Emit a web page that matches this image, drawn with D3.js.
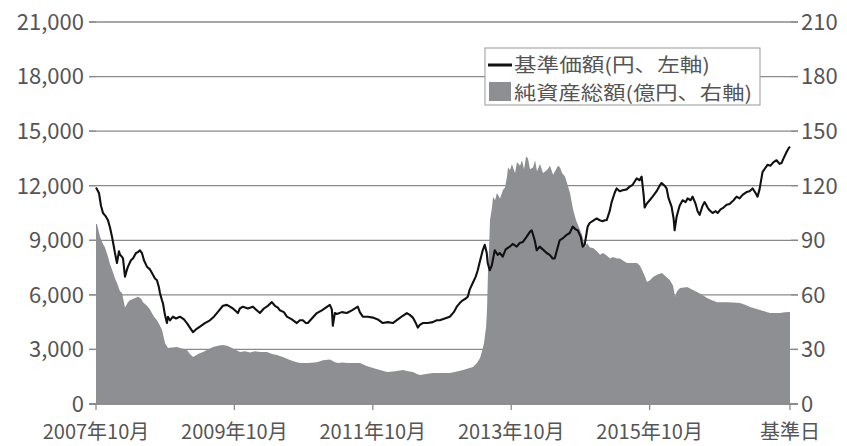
<!DOCTYPE html>
<html><head><meta charset="utf-8">
<script src="https://cdn.jsdelivr.net/npm/d3@7"></script>
<style>
html,body{margin:0;padding:0;background:#fff;}
svg{display:block;font-family:"Noto Sans CJK JP","Noto Sans",sans-serif;}
</style></head>
<body><svg id="c" width="847" height="446"></svg>
<script>
// time as fractional year
const navT = [2007.750,2007.793,2007.822,2007.851,2007.894,2007.923,2007.952,2007.981,2008.010,2008.024,2008.053,2008.082,2008.097,2008.125,2008.140,2008.169,2008.198,2008.212,2008.255,2008.284,2008.328,2008.356,2008.385,2008.414,2008.443,2008.486,2008.530,2008.559,2008.602,2008.631,2008.660,2008.674,2008.703,2008.717,2008.746,2008.775,2008.790,2008.819,2008.862,2008.905,2008.963,2009.021,2009.064,2009.107,2009.151,2009.194,2009.252,2009.324,2009.396,2009.454,2009.497,2009.541,2009.584,2009.642,2009.685,2009.728,2009.757,2009.800,2009.829,2009.873,2009.945,2010.017,2010.060,2010.118,2010.176,2010.234,2010.291,2010.335,2010.378,2010.407,2010.465,2010.508,2010.580,2010.652,2010.696,2010.739,2010.782,2010.811,2010.869,2010.941,2011.013,2011.071,2011.129,2011.158,2011.172,2011.201,2011.230,2011.302,2011.374,2011.447,2011.533,2011.562,2011.605,2011.678,2011.750,2011.822,2011.894,2011.966,2012.039,2012.111,2012.183,2012.241,2012.284,2012.328,2012.371,2012.400,2012.429,2012.472,2012.544,2012.616,2012.674,2012.717,2012.790,2012.862,2012.920,2012.963,2013.006,2013.049,2013.093,2013.122,2013.151,2013.194,2013.237,2013.266,2013.295,2013.338,2013.367,2013.396,2013.410,2013.439,2013.468,2013.512,2013.555,2013.584,2013.627,2013.670,2013.728,2013.771,2013.829,2013.873,2013.916,2013.974,2014.017,2014.046,2014.089,2014.118,2014.161,2014.205,2014.262,2014.306,2014.349,2014.378,2014.421,2014.450,2014.493,2014.551,2014.595,2014.638,2014.681,2014.710,2014.753,2014.782,2014.811,2014.854,2014.883,2014.941,2014.984,2015.028,2015.071,2015.100,2015.129,2015.172,2015.201,2015.244,2015.273,2015.317,2015.360,2015.418,2015.461,2015.504,2015.562,2015.605,2015.634,2015.663,2015.678,2015.706,2015.750,2015.793,2015.851,2015.894,2015.923,2015.966,2015.995,2016.024,2016.067,2016.096,2016.111,2016.140,2016.154,2016.183,2016.226,2016.270,2016.298,2016.342,2016.371,2016.414,2016.443,2016.472,2016.515,2016.544,2016.587,2016.616,2016.659,2016.703,2016.732,2016.775,2016.818,2016.862,2016.905,2016.963,2017.006,2017.049,2017.093,2017.150,2017.194,2017.237,2017.280,2017.309,2017.338,2017.381,2017.425,2017.454,2017.497,2017.540,2017.584,2017.627,2017.656,2017.685,2017.728,2017.757,2017.778];
const navV = [11900,11600,10900,10500,10300,10100,9700,9200,8600,8300,7750,8400,8200,8100,8000,7000,7400,7550,7900,8000,8300,8350,8450,8300,7900,7550,7400,7200,6900,6800,6400,6100,5700,5550,4900,4450,4800,4600,4800,4700,4800,4650,4450,4200,3950,4100,4250,4450,4600,4800,5000,5200,5400,5450,5350,5250,5150,5000,5250,5350,5250,5350,5200,5000,5250,5400,5600,5400,5300,5150,5050,4800,4650,4450,4600,4600,4450,4450,4700,5000,5150,5300,5450,5200,4300,5000,4950,5050,5000,5150,5350,5050,4800,4800,4750,4650,4450,4500,4450,4650,4850,5000,4900,4750,4450,4200,4350,4450,4450,4500,4600,4600,4700,4800,5050,5350,5550,5700,5800,5900,6300,6650,7000,7350,7800,8450,8750,8300,7750,7350,7600,8450,8200,8300,8100,8500,8650,8800,8650,8850,8900,9200,9450,9550,9000,8450,8650,8500,8300,8200,8000,8000,8600,9000,9100,9300,9400,9750,9600,9550,9200,8650,8750,9750,9950,10100,10200,10100,10050,10100,10100,10600,11100,11600,11850,11700,11750,11800,11950,12050,12400,12300,12500,11500,10800,11000,11200,11400,11700,12000,12150,12000,11850,11300,10850,10200,9550,10300,10500,10900,11200,11100,11300,11200,11400,11000,10600,10400,10900,11100,10800,10650,10500,10600,10500,10700,10800,10950,11000,11200,11400,11300,11500,11650,11700,11850,11600,11400,11800,12750,13000,13150,13100,13300,13400,13200,13250,13500,13850,14050,14150];

const aumT = [2007.750,2007.764,2007.808,2007.851,2007.880,2007.923,2007.952,2007.981,2008.025,2008.053,2008.097,2008.126,2008.169,2008.212,2008.241,2008.299,2008.357,2008.400,2008.429,2008.487,2008.530,2008.588,2008.631,2008.675,2008.704,2008.747,2008.790,2008.848,2008.920,2008.993,2009.065,2009.108,2009.152,2009.224,2009.296,2009.368,2009.441,2009.513,2009.585,2009.643,2009.686,2009.759,2009.831,2009.903,2009.975,2010.048,2010.120,2010.221,2010.293,2010.365,2010.467,2010.553,2010.626,2010.698,2010.813,2010.943,2011.030,2011.131,2011.204,2011.247,2011.319,2011.377,2011.464,2011.565,2011.652,2011.753,2011.854,2011.955,2012.071,2012.186,2012.258,2012.331,2012.388,2012.432,2012.519,2012.620,2012.721,2012.865,2012.966,2013.053,2013.125,2013.198,2013.255,2013.299,2013.328,2013.357,2013.386,2013.400,2013.414,2013.429,2013.443,2013.472,2013.487,2013.516,2013.544,2013.588,2013.631,2013.660,2013.689,2013.703,2013.732,2013.761,2013.776,2013.805,2013.833,2013.877,2013.906,2013.935,2013.964,2013.992,2014.021,2014.065,2014.094,2014.122,2014.166,2014.209,2014.267,2014.310,2014.354,2014.383,2014.426,2014.455,2014.484,2014.527,2014.556,2014.599,2014.643,2014.686,2014.744,2014.773,2014.816,2014.845,2014.888,2014.932,2014.989,2015.033,2015.076,2015.134,2015.177,2015.221,2015.278,2015.322,2015.380,2015.423,2015.495,2015.567,2015.611,2015.640,2015.683,2015.712,2015.755,2015.799,2015.856,2015.929,2015.987,2016.044,2016.088,2016.117,2016.145,2016.189,2016.247,2016.290,2016.362,2016.434,2016.507,2016.579,2016.651,2016.723,2016.796,2016.868,2016.955,2017.056,2017.128,2017.200,2017.273,2017.345,2017.417,2017.489,2017.562,2017.634,2017.706,2017.778];
const aumV = [99,99,92,88,86,81,77,74,69,66.5,62,61,53,56,57,58,59,58,56,54,52,48,46,43,40.7,33.5,30.8,31,31.4,30.5,29.7,27.5,25.8,27.5,28.6,30,31.4,32,32.4,32,31.4,30,28.6,29,28.3,29,28.6,28.6,27.5,26.9,25.5,24.2,23.2,22.5,22.5,23,24,24.5,23,22.5,22.8,22.5,22.5,22.5,21,19.8,18.7,17.6,18,18.7,18,17.6,16.5,15.9,16.5,17,17,17,17.8,18.7,19.5,20.3,22.5,25.3,29,33.5,42,51.7,72,85,101,108,114,112,116,113,117.6,119,125,130,128.6,132,130,127,133,131,134,129,136,135,129,130,134,128,132,127,128.6,131,126,128,131,130,127,125,121.5,116,107,101,95.7,93,86,88.5,86,85.7,84,82,83,81.5,80,80.8,80,80,78.5,77.5,77.5,77.5,76,73.7,70,67,68,69.8,71,72,70,68,65,59,62,63.8,64,64.3,63,61.6,60,58.3,57,56,56,56,55.8,55.5,54.5,53.3,52.5,51.7,50.8,50,50,50,50.4,50.6];

const leftTicks = [0,3000,6000,9000,12000,15000,18000,21000];
const rightTicks = [0,30,60,90,120,150,180,210];
const xTickVals = [2007.75,2009.75,2011.75,2013.75,2015.75,2017.778];
const xTickLabels = ["2007年10月","2009年10月","2011年10月","2013年10月","2015年10月","基準日"];
const legendLabels = ["基準価額(円、左軸)","純資産総額(億円、右軸)"];

const svg = d3.select("#c");
const X0 = 96, X1 = 790, Y0 = 404, Y1 = 22;
const x = d3.scaleLinear().domain([2007.75, 2017.778]).range([X0, X1]);
const yL = d3.scaleLinear().domain([0, 21000]).range([Y0, Y1]);
const yR = d3.scaleLinear().domain([0, 210]).range([Y0, Y1]);
const textCol = "#555", gridCol = "#8a8a8a";

// gridlines (behind)
svg.append("g").selectAll("line").data(leftTicks).join("line")
  .attr("x1", 89).attr("x2", 798)
  .attr("y1", d => yL(d)).attr("y2", d => yL(d))
  .attr("stroke", gridCol).attr("stroke-width", 1.3);

// area
const aum = aumT.map((t, i) => ({t, v: aumV[i]}));
svg.append("path").datum(aum)
  .attr("fill", "#8e8f92")
  .attr("d", d3.area().x(d => x(d.t)).y0(yR(0)).y1(d => yR(d.v)));

// left & right short ticks over area
svg.append("g").selectAll("line").data(leftTicks).join("line")
  .attr("x1", 89).attr("x2", X0).attr("y1", d => yL(d)).attr("y2", d => yL(d))
  .attr("stroke", gridCol).attr("stroke-width", 1.3);
svg.append("g").selectAll("line").data(rightTicks).join("line")
  .attr("x1", X1 + 1).attr("x2", 798).attr("y1", d => yR(d)).attr("y2", d => yR(d))
  .attr("stroke", gridCol).attr("stroke-width", 1.3);

// bottom axis
svg.append("line").attr("x1", 89).attr("x2", 798).attr("y1", Y0).attr("y2", Y0)
  .attr("stroke", gridCol).attr("stroke-width", 1.3);
svg.append("g").selectAll("line").data(xTickVals).join("line")
  .attr("x1", d => x(d)).attr("x2", d => x(d)).attr("y1", Y0).attr("y2", Y0 + 6)
  .attr("stroke", gridCol).attr("stroke-width", 1.3);
svg.append("g").selectAll("text").data(xTickVals).join("text")
  .attr("x", d => x(d)).attr("y", 439).attr("text-anchor", "middle")
  .attr("font-size", 20).attr("fill", textCol)
  .text((d, i) => xTickLabels[i]);

// left labels
svg.append("g").selectAll("text").data(leftTicks).join("text")
  .attr("x", 84).attr("y", d => yL(d)).attr("dy", "0.36em").attr("text-anchor", "end")
  .attr("font-size", 22).attr("fill", textCol)
  .text(d => d3.format(",")(d));
// right labels
svg.append("g").selectAll("text").data(rightTicks).join("text")
  .attr("x", 801).attr("y", d => yR(d)).attr("dy", "0.36em").attr("text-anchor", "start")
  .attr("font-size", 22).attr("fill", textCol)
  .text(d => d);

// line
const nav = navT.map((t, i) => ({t, v: navV[i]}));
svg.append("path").datum(nav)
  .attr("fill", "none").attr("stroke", "#111").attr("stroke-width", 2.1)
  .attr("stroke-linejoin", "round")
  .attr("d", d3.line().x(d => x(d.t)).y(d => yL(d.v)));

// legend
const lg = svg.append("g");
lg.append("rect").attr("x", 485).attr("y", 48).attr("width", 275).attr("height", 57)
  .attr("fill", "#fff").attr("stroke", "#999").attr("stroke-width", 1);
lg.append("line").attr("x1", 488).attr("x2", 512).attr("y1", 65).attr("y2", 65)
  .attr("stroke", "#111").attr("stroke-width", 3);
lg.append("rect").attr("x", 489).attr("y", 82).attr("width", 22).attr("height", 19)
  .attr("fill", "#8e8f92");
lg.selectAll("text").data(legendLabels).join("text")
  .attr("x", 514).attr("y", (d, i) => 72 + i * 28)
  .attr("font-size", 19).attr("fill", textCol).attr("textLength", (d,i)=> i===0?196:238)
  .attr("lengthAdjust", "spacingAndGlyphs")
  .text(d => d);
</script></body></html>
